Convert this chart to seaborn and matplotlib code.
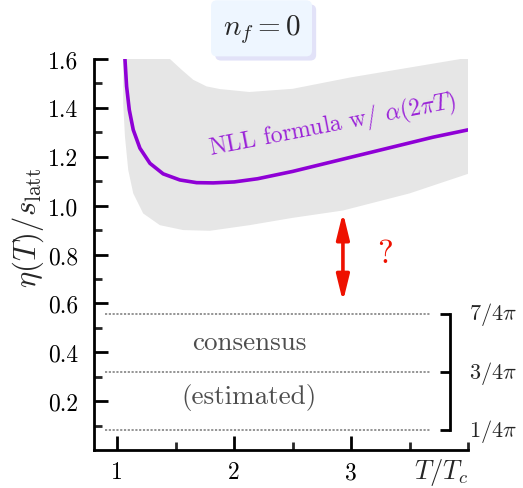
import numpy as np
import pandas as pd
import matplotlib
matplotlib.use("Agg")
import matplotlib.pyplot as plt
import matplotlib.patheffects as pe
import seaborn as sns

# NLL curve
t_nll = [1.065, 1.079, 1.102, 1.136, 1.193, 1.279, 1.392, 1.535, 1.678, 1.82,
         2.0, 2.2, 2.5, 2.8, 3.1, 3.4, 3.7, 4.0]
eta_nll = [1.60, 1.488, 1.392, 1.31, 1.235, 1.173, 1.13, 1.105, 1.094, 1.093,
           1.097, 1.11, 1.14, 1.175, 1.21, 1.245, 1.28, 1.31]

# uncertainty band edges
t_low = [1.05, 1.05, 1.065, 1.093, 1.136, 1.221, 1.364, 1.563, 1.791, 2.13, 2.5,
         2.93, 3.5, 4.0]
eta_low = [1.60, 1.42, 1.283, 1.146, 1.05, 0.968, 0.92, 0.90, 0.897, 0.92, 0.95,
           0.98, 1.05, 1.13]
t_up = [1.45, 1.55, 1.649, 1.763, 1.877, 2.13, 2.5, 3.0, 3.5, 4.0]
eta_up = [1.60, 1.556, 1.515, 1.488, 1.477, 1.465, 1.478, 1.525, 1.565, 1.605]

# consensus bounds (positions) and their labels
bound_vals = [0.080, 0.318, 0.557]
bound_labels = [r"$1/4\pi$", r"$3/4\pi$", r"$7/4\pi$"]

sns.set_theme(style="ticks")
plt.rcParams["font.family"] = ["cmr10"]
plt.rcParams["mathtext.fontset"] = "cm"
plt.rcParams["axes.formatter.use_mathtext"] = True

fig = plt.figure(figsize=(5.23, 4.89), dpi=100)
ax = fig.add_axes([0.1797, 0.0777, 0.7151, 0.7996])

# band
ax.fill(t_low + t_up[::-1], eta_low + eta_up[::-1], color="#e6e6e6", lw=0, zorder=1)

df = pd.DataFrame({"T": t_nll, "eta": eta_nll})
sns.lineplot(data=df, x="T", y="eta", ax=ax, color="#8f00d6", lw=2.6, sort=False,
             zorder=3)
ax.lines[-1].set_solid_joinstyle("round")

ax.text(2.84, 1.33, r"NLL formula w/ $\alpha(2\pi T)$", color="#9a22d8",
        fontsize=17, rotation=11, ha="center", va="center")

# dotted consensus lines + bracket
for v in bound_vals:
    ax.plot([0.89, 3.68], [v, v], color="#8c8c8c", lw=1.3, ls=(0, (1.2, 0.9)), zorder=2)
    ax.plot([3.76, 3.85], [v, v], color="black", lw=2, solid_capstyle="butt")
ax.plot([3.85, 3.85], [bound_vals[0], bound_vals[-1]], color="black", lw=2,
        solid_capstyle="projecting")
for v, lab in zip(bound_vals, bound_labels):
    ax.text(4.01, v, lab, fontsize=16, ha="left", va="center", clip_on=False)

ax.text(2.13, 0.44, "consensus", color="#4d4d4d", fontsize=19.5, ha="center", va="center")
ax.text(2.13, 0.22, "(estimated)", color="#4d4d4d", fontsize=19.5, ha="center", va="center")

# arrow + question mark
ax.annotate("", xy=(2.93, 0.972), xytext=(2.93, 0.607),
            arrowprops=dict(arrowstyle="<|-|>,head_length=1.3,head_width=0.32",
                            lw=2.6, color="#ee1100", shrinkA=0, shrinkB=0,
                            mutation_scale=12))
ax.text(3.29, 0.805, "?", color="#ee1100", fontsize=24, ha="center", va="center")

# title box
t = fig.text(0.5, 0.94, r"$n_f = 0$", fontsize=21, ha="center", va="center",
             bbox=dict(boxstyle="round,pad=0.4,rounding_size=0.2", fc="#eef6ff", ec="none"))
t.get_bbox_patch().set_path_effects([pe.withSimplePatchShadow(offset=(3, -3),
                                     shadow_rgbFace="#e2e2f8", alpha=1.0)])

ax.set_xlim(0.8, 4.0)
ax.set_ylim(0, 1.6)
ax.set_xticks([1, 2, 3])
ax.set_xticks([1.5, 2.5, 3.5, 4.0], minor=True)
ax.set_xticklabels(["1", "2", "3"])
ax.set_yticks([0.2, 0.4, 0.6, 0.8, 1.0, 1.2, 1.4, 1.6])
ax.set_yticks([0.1, 0.3, 0.5, 0.7, 0.9, 1.1, 1.3, 1.5], minor=True)
ax.set_yticklabels(["0.2", "0.4", "0.6", "0.8", "1.0", "1.2", "1.4", "1.6"])
ax.tick_params(which="major", direction="in", length=10, width=2, labelsize=17,
               colors="black", pad=8)
ax.tick_params(which="minor", direction="in", length=6, width=2)
ax.tick_params(axis="y", which="major", pad=11)

for s in ["top", "right"]:
    ax.spines[s].set_visible(False)
for s in ["left", "bottom"]:
    ax.spines[s].set_linewidth(2)
    ax.spines[s].set_color("black")

ax.set_xlabel("")
ax.set_ylabel("")
ax.text(4.0, -0.088, r"$T/T_c$", fontsize=19, ha="right", va="center", clip_on=False)
ax.text(-0.175, 0.57, r"$\eta(T)/s_{\rm latt}$", fontsize=22, rotation=90,
        ha="center", va="center", transform=ax.transAxes)

fig.savefig("out.png", dpi=100)
